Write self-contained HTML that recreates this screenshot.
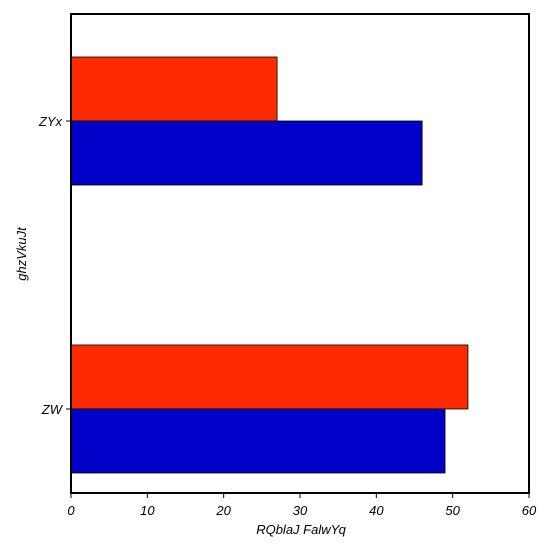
<!DOCTYPE html>
<html><head><meta charset="utf-8"><style>
body{margin:0;background:#fff;}
svg text{font-family:"Liberation Sans",sans-serif;font-style:italic;font-size:13px;fill:#000;}
</style></head><body>
<svg id="chart" width="552" height="552">
<g id="bars"></g><g id="axes"></g>
<text x="301" y="534" text-anchor="middle">RQblaJ FalwYq</text>
<text transform="translate(26,254) rotate(-90)" text-anchor="middle">ghzVkuJt</text>
</svg>
<script>
const categories=["ZYx","ZW"];
const seriesRed=[27,52];
const seriesBlue=[46,49];
const xTicks=[0,10,20,30,40,50,60];
const L=71,R=529,T=14,B=493,xMax=60;
const xs=v=>L+(R-L)*v/xMax;
const yc=i=>T+(B-T)*(0.2234+i*0.6012);
const ns="http://www.w3.org/2000/svg";
const bars=document.getElementById('bars'),axes=document.getElementById('axes');
function mk(tag,attrs,parent){const e=document.createElementNS(ns,tag);for(const k in attrs)e.setAttribute(k,attrs[k]);parent.appendChild(e);return e;}
const bh=64;
categories.forEach((c,i)=>{
  const cy=yc(i);
  const r=mk('rect',{x:L,y:cy-bh,width:xs(seriesRed[i])-L,height:bh,fill:'#ff2a00',stroke:'#000','stroke-width':0.8},bars);
  
  
  const b=mk('rect',{x:L,y:cy,width:xs(seriesBlue[i])-L,height:bh,fill:'#0000c8',stroke:'#000','stroke-width':0.8},bars);
  
  
  const t=mk('text',{x:L-9,y:cy+5,'text-anchor':'end'},axes);t.textContent=c;
  
  
  mk('line',{x1:L-5,x2:L,y1:cy,y2:cy,stroke:'#000'},axes);
});
xTicks.forEach(v=>{
  const x=xs(v);
  mk('line',{x1:x,x2:x,y1:B,y2:B+5,stroke:'#000'},axes);
  const t=mk('text',{x:x,y:B+22,'text-anchor':'middle'},axes);t.textContent=v;
  
  
});
const f=mk('rect',{x:L,y:T,width:R-L,height:B-T,fill:'none',stroke:'#000','stroke-width':2},axes);


</script>
</body></html>
